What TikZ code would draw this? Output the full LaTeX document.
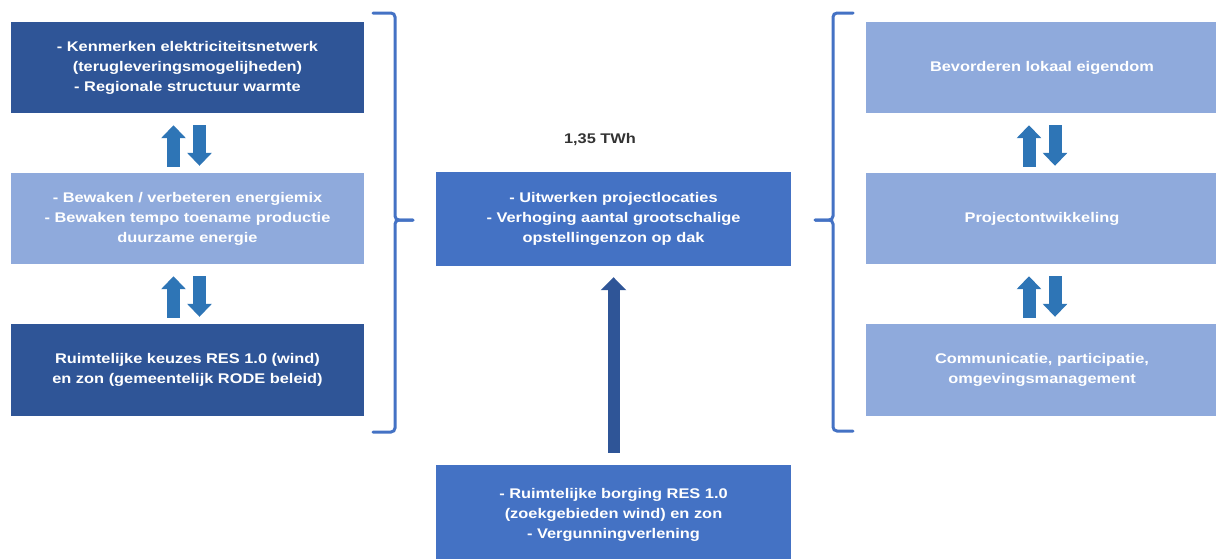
\documentclass[tikz,border=0pt]{standalone}
\usepackage{fontspec}
\setmainfont[FakeStretch=1.17]{Liberation Sans}
\usetikzlibrary{arrows.meta}
\definecolor{darkblue}{HTML}{2F5597}
\definecolor{midblue}{HTML}{4472C4}
\definecolor{lightblue}{HTML}{8FAADC}
\definecolor{arrowblue}{HTML}{2E75B6}
\definecolor{bracecol}{HTML}{4472C4}
\definecolor{labelgray}{HTML}{333333}
\tikzset{
  box/.style={rectangle, inner sep=0pt, align=center, text=white,
    font=\bfseries\fontsize{14}{20}\selectfont},
  darkbox/.style={box, fill=darkblue},
  lightbox/.style={box, fill=lightblue},
  midbox/.style={box, fill=midblue},
  sidebox/.style={minimum width=353pt, minimum height=91pt},
  uparrow/.style={line width=13pt, draw=arrowblue, -{Triangle[length=13pt,width=24pt]}},
  bigarrow/.style={line width=12pt, draw=darkblue, -{Triangle[length=13pt,width=25pt]}},
  bracestyle/.style={draw=bracecol, line width=3pt, rounded corners=4pt, line cap=round}
}
\begin{document}
\begin{tikzpicture}[x=1pt,y=-1pt]
\useasboundingbox (0,0) rectangle (1216,558);
\clip (0,0) rectangle (1216,558);
% left column
\node[darkbox, sidebox] (l1) at (187.5,67.5) {- Kenmerken elektriciteitsnetwerk\\(terugleveringsmogelijheden)\\- Regionale structuur warmte};
\node[lightbox, sidebox] (l2) at (187.5,218.5) {- Bewaken / verbeteren energiemix\\- Bewaken tempo toename productie\\duurzame energie};
\node[darkbox, sidebox, minimum height=92pt] (l3) at (187.5,370) {Ruimtelijke keuzes RES 1.0 (wind)\\en zon (gemeentelijk RODE beleid)};
% middle
\node[font=\bfseries\fontsize{14}{16}\selectfont, text=labelgray] (twh) at (600,140) {1,35 TWh};
\node[midbox, minimum width=355pt, minimum height=94pt] (m1) at (613.5,219) {- Uitwerken projectlocaties\\- Verhoging aantal grootschalige\\opstellingenzon op dak};
\node[midbox, minimum width=355pt, minimum height=100pt] (m2) at (613.5,515) {- Ruimtelijke borging RES 1.0\\(zoekgebieden wind) en zon\\- Vergunningverlening};
% right column
\node[lightbox, minimum width=352pt, minimum height=91pt] (r1) at (1042,67.5) {Bevorderen lokaal eigendom};
\node[lightbox, minimum width=352pt, minimum height=91pt] (r2) at (1042,218.5) {Projectontwikkeling};
\node[lightbox, minimum width=352pt, minimum height=92pt] (r3) at (1042,370) {Communicatie, participatie,\\omgevingsmanagement};
% double arrows left
\draw[uparrow, shorten <=6pt, shorten >=12pt] ([xshift=-14pt]l2.north) -- ([xshift=-14pt]l1.south);
\draw[uparrow, shorten <=12pt, shorten >=7pt] ([xshift=12pt]l1.south) -- ([xshift=12pt]l2.north);
\draw[uparrow, shorten <=6pt, shorten >=12pt] ([xshift=-14pt]l3.north) -- ([xshift=-14pt]l2.south);
\draw[uparrow, shorten <=12pt, shorten >=7pt] ([xshift=12pt]l2.south) -- ([xshift=12pt]l3.north);
% double arrows right
\draw[uparrow, shorten <=6pt, shorten >=12pt] ([xshift=-13pt]r2.north) -- ([xshift=-13pt]r1.south);
\draw[uparrow, shorten <=12pt, shorten >=7pt] ([xshift=13pt]r1.south) -- ([xshift=13pt]r2.north);
\draw[uparrow, shorten <=6pt, shorten >=12pt] ([xshift=-13pt]r3.north) -- ([xshift=-13pt]r2.south);
\draw[uparrow, shorten <=12pt, shorten >=7pt] ([xshift=13pt]r2.south) -- ([xshift=13pt]r3.north);
% middle arrow
\draw[bigarrow, shorten <=12pt, shorten >=11pt] (m2.north) -- (m1.south);
% braces
\coordinate (lbt) at (373,13);
\coordinate (lbm) at (413,220);
\coordinate (lbb) at (373,432);
\draw[bracestyle] (lbt) -- (395,13) -- (395,220) -- (lbm);
\draw[bracestyle] (lbm) -- (395,220) -- (395,432) -- (lbb);
\coordinate (rbt) at (853,13);
\coordinate (rbm) at (815,220);
\coordinate (rbb) at (853,431);
\draw[bracestyle] (rbt) -- (833,13) -- (833,220) -- (rbm);
\draw[bracestyle] (rbm) -- (833,220) -- (833,431) -- (rbb);
\end{tikzpicture}
\end{document}
